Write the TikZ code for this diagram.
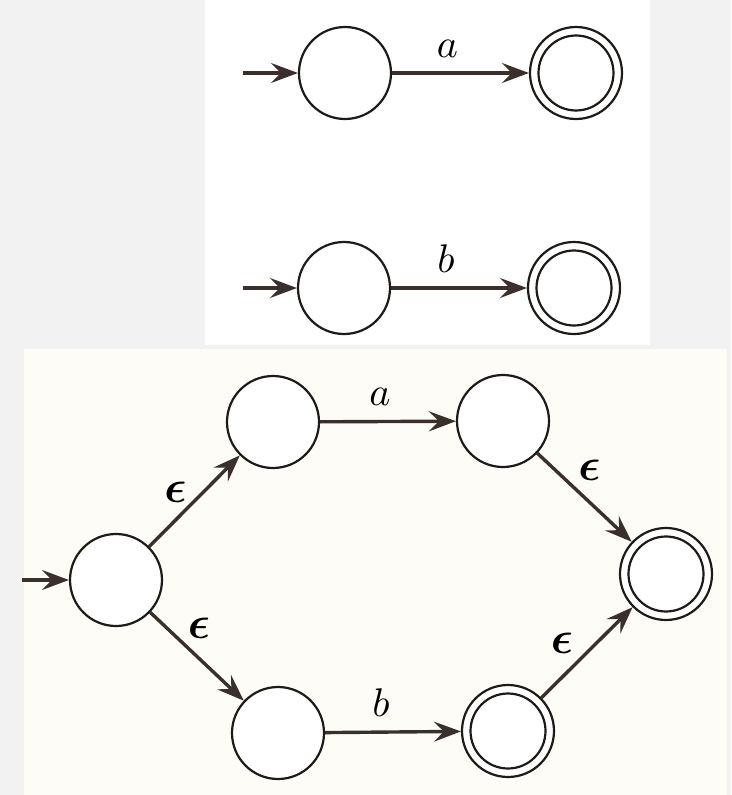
\documentclass[tikz,border=0pt]{standalone}
\usepackage{graphicx}
\usepackage{amsmath,bm}
\usetikzlibrary{arrows.meta}
\definecolor{ink}{HTML}{1E1A18}
\definecolor{arr}{HTML}{3A2F2B}
\definecolor{bggray}{HTML}{F2F2F2}
\definecolor{cream}{HTML}{FEFCF7}
\newcommand{\biglab}[1]{\scalebox{4}{$#1$}}
\newcommand{\epsl}{\scalebox{4.6}{$\bm{\epsilon}$}}
\begin{document}
\begin{tikzpicture}[x=1pt,y=-1pt,
  state/.style={circle,draw=ink,line width=2.2pt,minimum size=92pt,inner sep=0pt,fill=white},
  inner/.style={draw=ink,line width=2.2pt},
  edge/.style={draw=arr,line width=3.4pt,-{Stealth[length=27pt,width=20pt,inset=10pt]}},
  lab/.style={inner sep=0pt},
  eps/.style={inner sep=0pt}]
\useasboundingbox (0,0) rectangle (731,795);
\fill[bggray] (0,0) rectangle (731,795);
\fill[white] (205,0) rectangle (650,345);
\fill[cream] (24,349) rectangle (727,795);
% top automaton (a)
\coordinate (i1) at (243,73);
\node[state] (C1) at (345,73) {};
\node[state] (A1) at (576,73) {};
\draw[inner] (A1.center) circle[radius=37.5pt];
\draw[edge] (i1) -- (C1);
\draw[edge] (C1) -- node[lab,above=14pt,xshift=-13pt] {\biglab{a}} (A1);
% top automaton (b)
\coordinate (i2) at (243,288);
\node[state] (C2) at (344,288) {};
\node[state] (A2) at (574,288) {};
\draw[inner] (A2.center) circle[radius=37.5pt];
\draw[edge] (i2) -- (C2);
\draw[edge] (C2) -- node[lab,above=14pt,xshift=-13pt] {\biglab{b}} (A2);
% union automaton
\coordinate (i3) at (22,580);
\node[state] (S) at (116,580) {};
\node[state] (U1) at (273,422) {};
\node[state] (U2) at (503,421) {};
\node[state] (L1) at (278,733) {};
\node[state] (L2) at (508,731) {};
\node[state] (F) at (666,574) {};
\draw[inner] (L2.center) circle[radius=37.5pt];
\draw[inner] (F.center) circle[radius=37.5pt];
\draw[edge] (i3) -- (S);
\draw[edge] (S) -- node[eps,shift={(-19,-9)}] {\epsl} (U1);
\draw[edge] (S) -- node[eps,shift={(2,-28)}] {\epsl} (L1);
\draw[edge] (U1) -- node[lab,above=14pt,xshift=-8pt] {\biglab{a}} (U2);
\draw[edge] (L1) -- node[lab,above=14pt,xshift=-12pt] {\biglab{b}} (L2);
\draw[edge] (U2) -- node[eps,shift={(5,-27)}] {\epsl} (F);
\draw[edge] (L2) -- node[eps,shift={(-25,-9)}] {\epsl} (F);
\end{tikzpicture}
\end{document}
